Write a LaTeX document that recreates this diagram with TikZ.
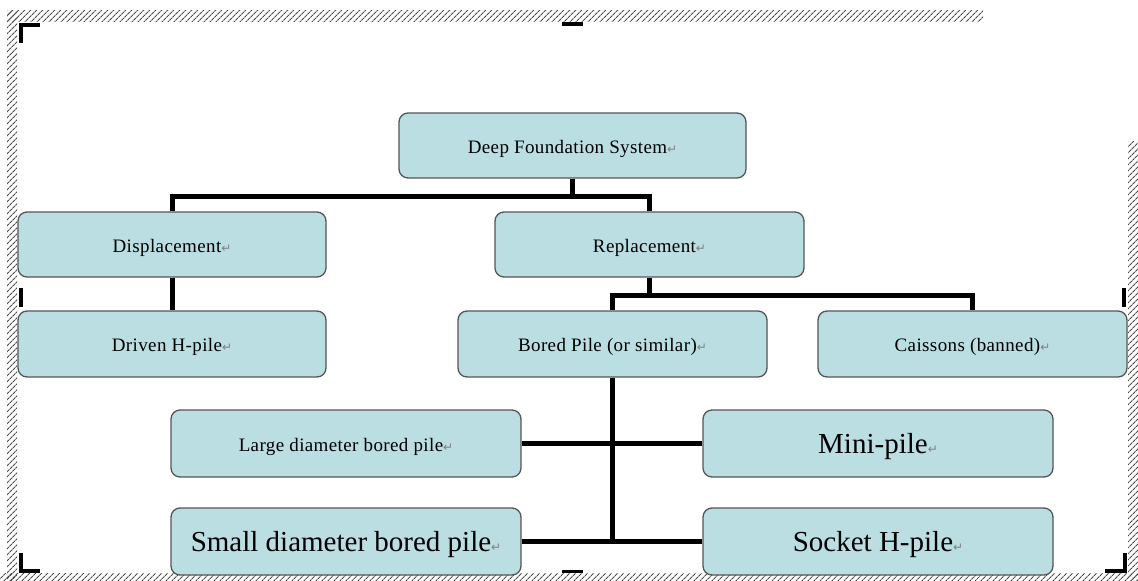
\documentclass[tikz,border=0pt]{standalone}
\usepackage{fontspec}
\setmainfont{Liberation Serif}
\newfontfamily\symfont{DejaVu Sans}
\usetikzlibrary{patterns.meta}
\definecolor{boxfill}{RGB}{186,222,226}
\definecolor{boxline}{RGB}{85,85,85}
\newcommand{\retmark}{{\symfont\fontsize{12}{12}\selectfont\color{gray}↵}}
\newcommand{\smalltxt}{\fontsize{19}{22}\selectfont\addfontfeature{LetterSpace=2}}
\newcommand{\bigtxt}{\fontsize{29}{33}\selectfont}
\newcommand{\lbl}[1]{\raisebox{-3pt}[\height][\depth]{#1\retmark}}
\begin{document}
\begin{tikzpicture}[x=1pt,y=-1pt,
  pbox/.style={draw=boxline, line width=1.3pt, fill=boxfill, rounded corners=9pt,
    inner sep=0pt, anchor=center, minimum height=66pt},
  conn/.style={line width=5pt, line join=miter},
  cornermark/.style={line width=4pt},
  hatch/.style={pattern={Lines[angle=45, distance=4pt, line width=1.1pt]}, pattern color=black!70}]
\useasboundingbox (0,0) rectangle (1138,581);
% hatched frame
\fill[hatch] (7,10) rectangle (983,21);
\fill[hatch] (7,10) rectangle (17,581);
\fill[hatch] (1128,141) rectangle (1138,581);
\fill[hatch] (0,573) rectangle (1138,581);
% corner and side marks
\draw[cornermark] (20.5,43) -- (20.5,24.5) -- (40,24.5);
\draw[cornermark] (562,23.5) -- (583,23.5);
\draw[cornermark] (20.5,288) -- (20.5,307);
\draw[cornermark] (1124,288) -- (1124,307);
\draw[cornermark] (20.5,553) -- (20.5,571) -- (40,571);
\draw[cornermark] (1105,571) -- (1125,571) -- (1125,553);
\draw[line width=3pt] (562,571) -- (583,571);
% boxes
\node[pbox, minimum width=347pt, minimum height=65pt] (top) at (572.5,145.5) {\lbl{\smalltxt Deep Foundation System}};
\node[pbox, minimum width=308pt, minimum height=65pt] (disp) at (172,244.5) {\lbl{\smalltxt Displacement}};
\node[pbox, minimum width=309pt, minimum height=65pt] (repl) at (649.5,244.5) {\lbl{\smalltxt Replacement}};
\node[pbox, minimum width=308pt] (driven) at (172,344) {\lbl{\smalltxt Driven H-pile}};
\node[pbox, minimum width=309pt] (bored) at (612.5,344) {\lbl{\smalltxt Bored Pile (or similar)}};
\node[pbox, minimum width=309pt] (caisson) at (972.5,344) {\lbl{\smalltxt Caissons (banned)}};
\node[pbox, minimum width=350pt, minimum height=67pt] (large) at (346,443.5) {\lbl{\smalltxt Large diameter bored pile}};
\node[pbox, minimum width=350pt, minimum height=67pt] (mini) at (878,443.5) {\lbl{\bigtxt Mini-pile}};
\node[pbox, minimum width=350pt, minimum height=67pt] (small) at (346,541.5) {\lbl{\bigtxt Small diameter bored pile}};
\node[pbox, minimum width=350pt, minimum height=67pt] (socket) at (878,541.5) {\lbl{\bigtxt Socket H-pile}};
% connectors
\coordinate (j1) at (572.5,196.5);
\coordinate (j2) at (649.5,295);
\draw[conn] (top.south) -- (j1);
\draw[conn] (disp.north) |- (j1) -| (repl.north);
\draw[conn] (disp.south) -- (driven.north);
\draw[conn] (repl.south) -- (j2);
\draw[conn] (bored.north) |- (j2) -| (caisson.north);
\draw[conn] (bored.south) -- (bored.south |- small.east);
\draw[conn] (large.east) -- (mini.west);
\draw[conn] (small.east) -- (socket.west);
\end{tikzpicture}
\end{document}
